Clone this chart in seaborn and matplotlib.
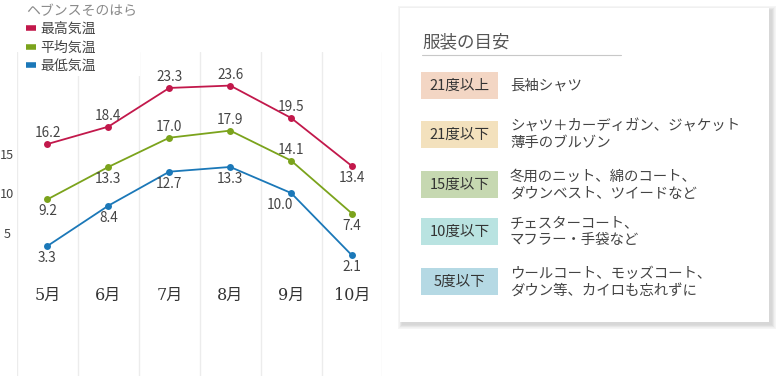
import numpy as np
import pandas as pd
import seaborn as sns
import matplotlib.pyplot as plt
from matplotlib.patches import Rectangle
from matplotlib.lines import Line2D

# データ
months = ['5月', '6月', '7月', '8月', '9月', '10月']
series_names = ['最高気温', '平均気温', '最低気温']
temp_max = [16.2, 18.4, 23.3, 23.6, 19.5, 13.4]
temp_avg = [9.2, 13.3, 17.0, 17.9, 14.1, 7.4]
temp_min = [3.3, 8.4, 12.7, 13.3, 10.0, 2.1]
place = 'ヘブンスそのはら'

# 服装の目安
guide_title = '服装の目安'
guide_labels = ['21度以上', '21度以下', '15度以下', '10度以下', '5度以下']
guide_texts = ['長袖シャツ',
               'シャツ＋カーディガン、ジャケット\n薄手のブルゾン',
               '冬用のニット、綿のコート、\nダウンベスト、ツイードなど',
               'チェスターコート、\nマフラー・手袋など',
               'ウールコート、モッズコート、\nダウン等、カイロも忘れずに']

colors = ['#c2184b', '#7ba31c', '#1b78b8']
guide_colors = ['#f3d6c4', '#f3e1bd', '#c6d8b1', '#b9e3e1', '#b5d9e4']
# ラベル位置 (上: +1 / 下: -1)
label_side = [[1, 1, 1, 1, 1, -1],
              [-1, -1, 1, 1, 1, -1],
              [-1, -1, -1, -1, -1, -1]]

df = pd.DataFrame({
    'mes': list(range(len(months))) * 3,
    'temp': temp_max + temp_avg + temp_min,
    'serie': sum([[s] * len(months) for s in series_names], []),
})

sns.set_style('white')
plt.rcParams['font.family'] = ['Noto Sans CJK JP', 'DejaVu Sans']

W, H = 779, 376
fig = plt.figure(figsize=(W / 100, H / 100), dpi=100, facecolor='white')

# 折れ線グラフ
x0, x1, y0, y1 = 17, 382.5, 52, 376
ax = fig.add_axes([x0 / W, 1 - y1 / H, (x1 - x0) / W, (y1 - y0) / H], zorder=2)
ax.set_facecolor('none')
sns.lineplot(data=df, x='mes', y='temp', hue='serie', hue_order=series_names,
             palette=colors, marker='o', markersize=5, markeredgewidth=0,
             linewidth=1.3, ax=ax, legend=False)
ax.set_xlim(-0.5, 5.5)
ax.set_ylim(-13.16, 27.85)

ax.set_xticks([])
ax.set_xticks(np.arange(-0.5, 6, 1), minor=True)
ax.grid(which='minor', axis='x', color='#ececec', linewidth=1)
ax.tick_params(which='both', length=0)
ax.set_yticks([5, 10, 15])
ax.set_yticklabels(['5', '10', '15'], fontsize=9.2, color='#444444', ha='center')
ax.tick_params(axis='y', pad=7)
for sp in ax.spines.values():
    sp.set_visible(False)
ax.set_xlabel('')
ax.set_ylabel('')

# 値ラベル
for k, vals in enumerate([temp_max, temp_avg, temp_min]):
    for i, v in enumerate(vals):
        dx = -11 if (k == 2 and i == 4) else 0
        dy = 11 * label_side[k][i]
        if label_side[k][i] < 0:
            dy -= 1
        ax.annotate(f'{v:.1f}', (i, v), textcoords='offset pixels', xytext=(dx, dy),
                    ha='center', va='center', fontsize=9.8, color='#444444')

# 月ラベル
for i, m in enumerate(months):
    ax.text(i, -2.9, m, ha='center', va='center', fontsize=11.5, color='#333333',
            family=['DejaVu Serif', 'Noto Sans CJK JP'])

# 凡例
handles = [Line2D([0], [0], color=c, linewidth=4, solid_capstyle='butt') for c in colors]
leg = fig.legend(handles, series_names, loc='upper left', bbox_to_anchor=(16 / W, 1 + 6 / H),
                 frameon=True, facecolor='white', edgecolor='none', framealpha=1,
                 fancybox=False, fontsize=10, title=place, title_fontsize=10,
                 alignment='left', handlelength=0.75, handletextpad=0.3,
                 labelspacing=0.32, borderpad=0.2)
leg.get_title().set_color('#8a8a8a')
for t in leg.get_texts():
    t.set_color('#444444')

# 服装の目安パネル
axp = fig.add_axes([0, 0, 1, 1], zorder=1)
axp.set_xlim(0, W)
axp.set_ylim(H, 0)
axp.axis('off')

px0, py0, px1, py1 = 400, 8, 769, 322
for k in range(8):
    axp.add_patch(Rectangle((px0 + 2 - k * 0.6, py0 + 2 - k * 0.6),
                            (px1 - px0) + k * 1.2 + 1, (py1 - py0) + k * 1.2 + 1,
                            facecolor='black', edgecolor='none', alpha=0.018))
axp.add_patch(Rectangle((px0, py0), px1 - px0, py1 - py0, facecolor='white', edgecolor='none'))

axp.text(422, 42, guide_title, fontsize=12.6, color='#555555', va='center', ha='left')
axp.plot([422, 621], [55, 55], color='#c8c8c8', linewidth=0.8)

badge_top = [72, 121, 171, 218, 268]
for lab, txt, c, yt in zip(guide_labels, guide_texts, guide_colors, badge_top):
    axp.add_patch(Rectangle((421, yt), 77, 27, facecolor=c, edgecolor='none'))
    axp.text(459.5, yt + 14, lab, ha='center', va='center', fontsize=10.5, color='#333333')
    axp.text(510, yt + 14, txt, ha='left', va='center', fontsize=10.4, color='#444444',
             linespacing=1.25)

fig.savefig('out.png', dpi=100, facecolor='white')
